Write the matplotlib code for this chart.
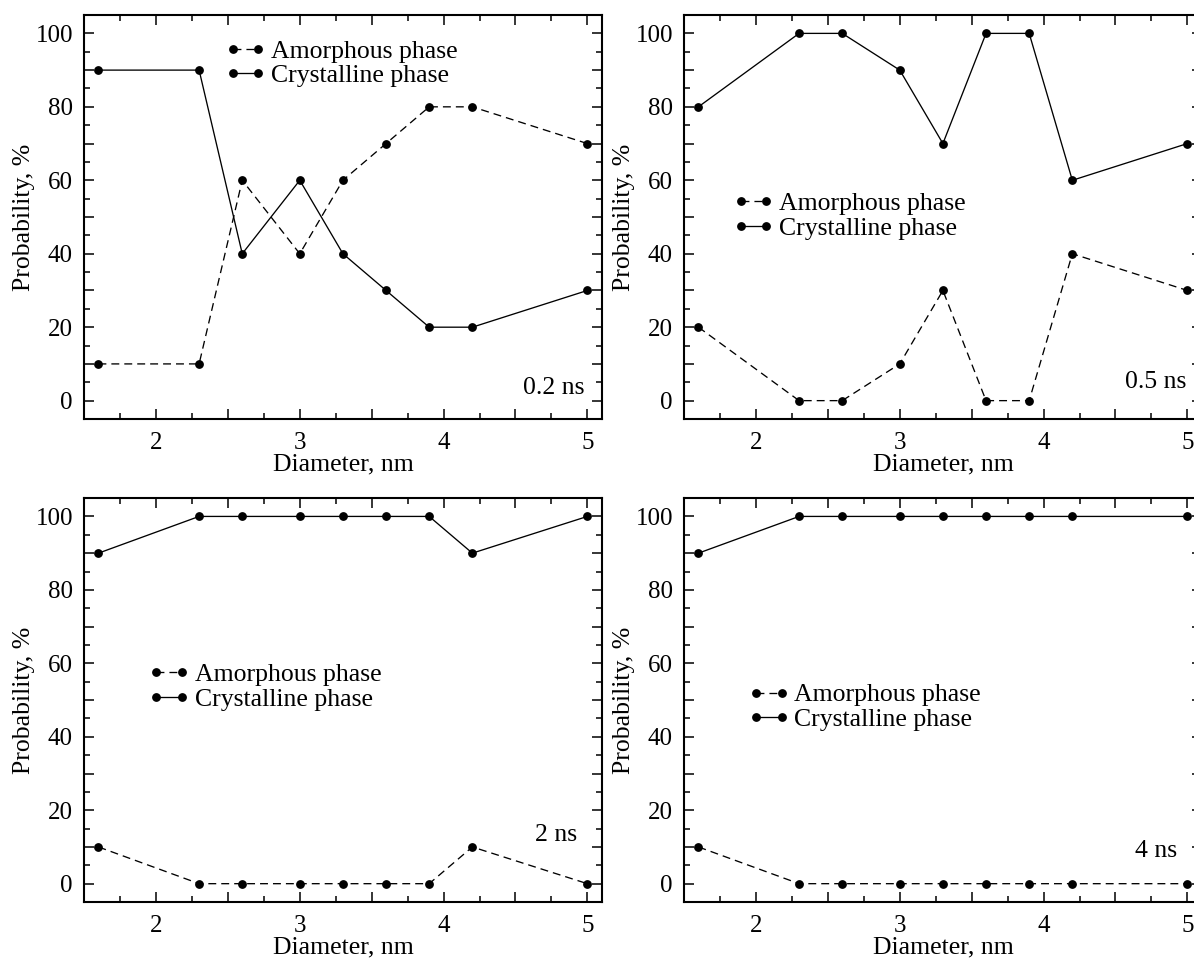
import numpy as np
import matplotlib
matplotlib.use("Agg")
import matplotlib.pyplot as plt
from matplotlib.ticker import MultipleLocator, FuncFormatter

plt.rcParams["font.family"] = ["Liberation Serif", "DejaVu Serif"]

# DATA
diameter = [1.6, 2.3, 2.6, 3.0, 3.3, 3.6, 3.9, 4.2, 5.0]

amorph_02 = [10, 10, 60, 40, 60, 70, 80, 80, 70]
cryst_02 = [90, 90, 40, 60, 40, 30, 20, 20, 30]

amorph_05 = [20, 0, 0, 10, 30, 0, 0, 40, 30]
cryst_05 = [80, 100, 100, 90, 70, 100, 100, 60, 70]

amorph_2 = [10, 0, 0, 0, 0, 0, 0, 10, 0]
cryst_2 = [90, 100, 100, 100, 100, 100, 100, 90, 100]

amorph_4 = [10, 0, 0, 0, 0, 0, 0, 0, 0]
cryst_4 = [90, 100, 100, 100, 100, 100, 100, 100, 100]

time_labels = ["0.2 ns", "0.5 ns", "2 ns", "4 ns"]

# LAYOUT (figure fractions)
fig = plt.figure(figsize=(11.94, 9.63), dpi=100)
w, h = 0.4336, 0.4195
positions = [
    [0.0704, 0.5649, w, h],
    [0.5729, 0.5649, w, h],
    [0.0704, 0.0633, w, h],
    [0.5729, 0.0633, w, h],
]

panels = [
    (amorph_02, cryst_02),
    (amorph_05, cryst_05),
    (amorph_2, cryst_2),
    (amorph_4, cryst_4),
]

# legend anchor (x, y center) and time label position (right end, y center)
legend_pos = [(2.48, 91.8), (1.84, 50.2), (1.95, 53.5), (1.95, 48.0)]
label_pos = [(4.98, 3.5), (4.99, 5.2), (4.93, 13.3), (4.93, 8.8)]

fs = 18.5


def int_only(v, p):
    return f"{v:.0f}" if abs(v - round(v)) < 1e-6 else ""


def every20(v, p):
    return f"{v:.0f}" if abs(v / 20 - round(v / 20)) < 1e-6 else ""


for i, (amorph, cryst) in enumerate(panels):
    ax = fig.add_axes(positions[i])
    ax.plot(diameter, amorph, color="black", lw=0.95, linestyle=(0, (6, 3.8)),
            marker="o", markersize=5.3, label="Amorphous phase")
    ax.plot(diameter, cryst, color="black", lw=0.95, linestyle="-",
            marker="o", markersize=5.3, label="Crystalline phase")

    ax.set_xlim(1.5, 5.1)
    ax.set_ylim(-5, 105)

    ax.xaxis.set_major_locator(MultipleLocator(0.5))
    ax.xaxis.set_minor_locator(MultipleLocator(0.25))
    ax.xaxis.set_major_formatter(FuncFormatter(int_only))
    ax.yaxis.set_major_locator(MultipleLocator(10))
    ax.yaxis.set_minor_locator(MultipleLocator(5))
    ax.yaxis.set_major_formatter(FuncFormatter(every20))

    ax.tick_params(which="both", direction="in", top=True, right=True,
                   width=1.1, labelsize=18)
    ax.tick_params(which="major", length=7.2)
    ax.tick_params(which="minor", length=4.3)
    ax.tick_params(axis="x", pad=9)
    ax.tick_params(axis="y", pad=8)
    for sp in ax.spines.values():
        sp.set_linewidth(1.5)

    ax.set_xlabel("Diameter, nm", fontsize=fs, labelpad=0)
    ax.set_ylabel("Probability, %", fontsize=fs, labelpad=0)

    ax.legend(loc="center left", bbox_to_anchor=legend_pos[i],
              bbox_transform=ax.transData, frameon=False, fontsize=fs,
              numpoints=2, handlelength=1.6, handletextpad=0.18,
              labelspacing=0.07, borderpad=0, borderaxespad=0)

    ax.text(label_pos[i][0], label_pos[i][1], time_labels[i], fontsize=fs,
            ha="right", va="center")

fig.savefig("out.png", dpi=100)
